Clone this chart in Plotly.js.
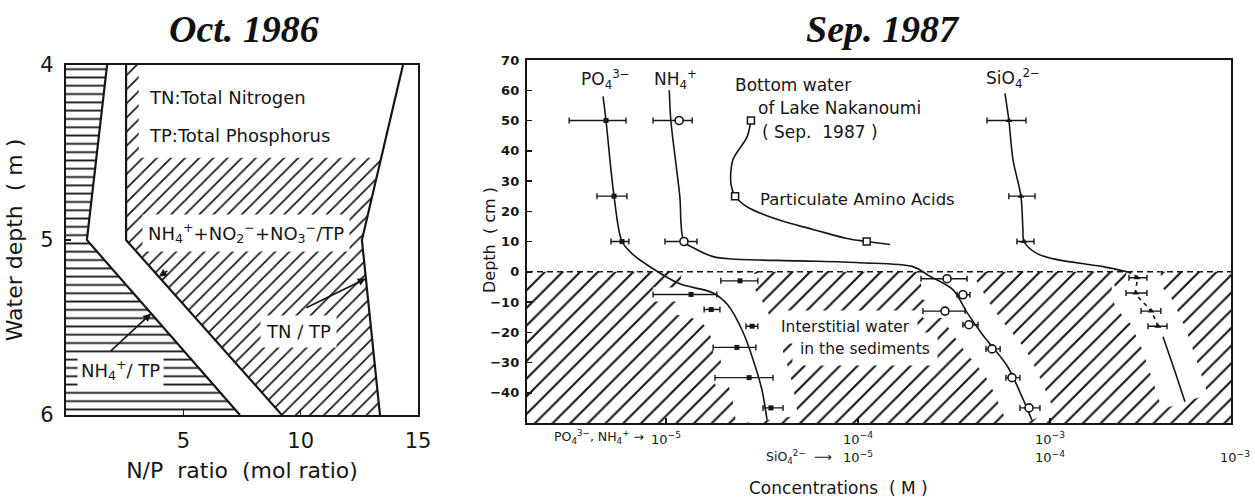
<!DOCTYPE html>
<html><head><meta charset="utf-8">
<script src="https://cdn.plot.ly/plotly-3.0.1.min.js"></script>
<style>html,body{margin:0;padding:0;background:#fff}#chart{width:1255px;height:497px}</style>
</head><body><div id="chart"></div>
<script>
// ===== Left panel: Oct. 1986 – N/P ratio vs water depth =====
const waterDepth = [4, 5, 6];                 // m
const nh4TP      = [1.75, 0.89, 7.41];        // NH4+ / TP
const dinTP      = [2.56, 2.56, 9.2];         // (NH4+ + NO2- + NO3-) / TP
const tnTP       = [14.36, 12.61, 13.38];     // TN / TP
const npTicks    = [5, 10, 15];
const depthTicksM = [4, 5, 6];

// ===== Right panel: Sep. 1987 – concentrations (M) vs depth (cm) =====
const po4Depth = [50, 25, 10, -3, -7.5, -12.5, -18, -25, -35, -45];
const po4Conc  = [4.87e-6, 5.36e-6, 5.90e-6, 2.43e-5, 1.35e-5, 1.72e-5, 2.81e-5, 2.34e-5, 2.71e-5, 3.52e-5];
const po4Low   = [3.13e-6, 4.37e-6, 5.17e-6, 1.93e-5, 8.56e-6, 1.58e-5, 2.61e-5, 1.76e-5, 1.80e-5, 3.20e-5];
const po4High  = [6.19e-6, 6.26e-6, 6.41e-6, 3.01e-5, 1.84e-5, 1.91e-5, 3.01e-5, 2.94e-5, 3.61e-5, 4.07e-5];
const po4CurveDepth = [58, 50, 25, 10, 6, 1, -4, -7, -11, -20, -29, -39, -49];
const po4CurveConc  = [4.70e-6, 4.87e-6, 5.36e-6, 5.90e-6, 6.65e-6, 8.56e-6, 1.18e-5, 1.76e-5, 2.10e-5, 2.52e-5, 2.84e-5, 3.16e-5, 3.36e-5];

const nh4Depth = [50, 10, -2.3, -7.6, -13, -17.5, -25.5, -35, -45];
const nh4Conc  = [1.17e-5, 1.24e-5, 2.91e-4, 3.52e-4, 2.84e-4, 3.78e-4, 4.99e-4, 6.34e-4, 7.78e-4];
const nh4Low   = [8.56e-6, 9.88e-6, 2.13e-4, 3.28e-4, 2.18e-4, 3.52e-4, 4.64e-4, 5.90e-4, 6.98e-4];
const nh4High  = [1.37e-5, 1.45e-5, 3.70e-4, 3.83e-4, 3.61e-4, 4.22e-4, 5.50e-4, 6.98e-4, 8.87e-4];
const nh4CurveDepth = [60, 50, 35, 25, 10, 8, 5, 4.2, 3.6, 3, 1.7, -1.5, -6, -13.5, -21, -31, -42, -49];
const nh4CurveConc  = [1.04e-5, 1.06e-5, 1.13e-5, 1.18e-5, 1.24e-5, 1.38e-5, 1.76e-5, 2.23e-5, 4.99e-5, 1.02e-4, 1.93e-4, 2.37e-4, 3.13e-4, 3.70e-4, 4.48e-4, 5.97e-4, 7.23e-4, 8.05e-4];

const aaDepth = [50, 25, 10];                 // particulate amino acids
const aaConc  = [2.77e-5, 2.29e-5, 1.11e-4];
const aaCurveDepth = [50, 44.5, 37, 29, 25, 21.5, 17, 14, 11, 10, 9];
const aaCurveConc  = [2.77e-5, 2.64e-5, 2.23e-5, 2.18e-5, 2.29e-5, 2.64e-5, 3.92e-5, 5.83e-5, 8.77e-5, 1.11e-4, 1.47e-4];

const siDepth = [50, 25, 10, -2, -7, -13, -18];
const siConc  = [6.11e-5, 7.06e-5, 7.32e-5, 2.84e-4, 2.80e-4, 3.36e-4, 3.65e-4];
const siLow   = [4.70e-5, 6.11e-5, 6.73e-5, 2.58e-4, 2.49e-4, 2.98e-4, 3.24e-4];
const siHigh  = [7.50e-5, 8.36e-5, 8.26e-5, 3.20e-4, 3.20e-4, 3.78e-4, 4.07e-4];
const siCurveDepth = [59, 50, 37, 25, 14, 10, 6, 4, 1.7, 0];
const siCurveConc  = [5.83e-5, 6.11e-5, 6.42e-5, 7.06e-5, 7.23e-5, 7.32e-5, 8.56e-5, 1.09e-4, 1.89e-4, 2.52e-4];
const siDashDepth  = [0, -2, -7, -13, -18];
const siDashConc   = [2.52e-4, 2.84e-4, 2.80e-4, 3.36e-4, 3.65e-4];
const siLowerDepth = [-21.5, -33, -43];
const siLowerConc  = [3.88e-4, 4.48e-4, 5.05e-4];

const depthTicksCm  = [70, 60, 50, 40, 30, 20, 10, 0, -10, -20, -30, -40];
const concTickVals  = [1e-5, 1e-4, 1e-3];
const concTickText  = ['10<sup>−5</sup>', '10<sup>−4</sup>', '10<sup>−3</sup>'];
const siTickText    = ['10<sup>−5</sup>', '10<sup>−4</sup>', '10<sup>−3</sup>'];

// ===== layout constants =====
const W = 1255, H = 497;
const px = v => v / W, py = v => 1 - v / H;
const concRangeLog = [-5.724, -2.057];
const siRangeLog = [concRangeLog[0] - 1, concRangeLog[1] - 1];
const depthRangeCm = [-50, 70];
const sedimentTop = 0;
const labelBoxLeft = 3.1, labelBoxBottom = 4.53;
const siTickPx = [858, 1050, 1252];
const siTickAnchor = ['center', 'center', 'right'];

const INK = '#161616';
const SANS = 'DejaVu Sans, Liberation Sans, sans-serif';

function interp(d, ds, xs) {
  for (let i = 0; i < ds.length - 1; i++) {
    if (d >= ds[i] && d <= ds[i + 1]) {
      const t = (d - ds[i]) / (ds[i + 1] - ds[i]);
      return xs[i] + t * (xs[i + 1] - xs[i]);
    }
  }
  return xs[xs.length - 1];
}
const rev = a => a.slice().reverse();
const sedPart = (ds, xs) => {
  const o = {x: [], y: []};
  ds.forEach((d, i) => { if (d <= sedimentTop + 0.5) { o.x.push(xs[i]); o.y.push(d); } });
  return o;
};

const traces = [];
// --- left panel fills ---
traces.push({x: [...dinTP, ...rev(tnTP)], y: [...waterDepth, ...rev(waterDepth)],
  mode: 'lines', fill: 'toself', line: {width: 0}, fillcolor: '#ffffff',
  fillpattern: {shape: '/', size: 10, solidity: 0.17, fgcolor: INK, bgcolor: '#ffffff'},
  xaxis: 'x', yaxis: 'y', hoverinfo: 'skip', showlegend: false});
traces.push({x: [0, ...nh4TP, 0], y: [waterDepth[0], ...waterDepth, waterDepth[waterDepth.length - 1]],
  mode: 'lines', fill: 'toself', line: {width: 0}, fillcolor: '#ffffff',
  fillpattern: {shape: '-', size: 8.3, solidity: 0.22, fgcolor: INK, bgcolor: '#ffffff'},
  xaxis: 'x', yaxis: 'y', hoverinfo: 'skip', showlegend: false});
// white label area at the top
traces.push({x: [labelBoxLeft, tnTP[0], interp(labelBoxBottom, waterDepth, tnTP), labelBoxLeft],
  y: [waterDepth[0], waterDepth[0], labelBoxBottom, labelBoxBottom],
  mode: 'lines', fill: 'toself', line: {width: 0}, fillcolor: '#ffffff',
  xaxis: 'x', yaxis: 'y', hoverinfo: 'skip', showlegend: false});
[nh4TP, dinTP, tnTP].forEach(arr => traces.push({x: arr, y: waterDepth, mode: 'lines',
  line: {color: INK, width: 2.2}, xaxis: 'x', yaxis: 'y', hoverinfo: 'skip', showlegend: false}));

// --- right panel: sediment hatch ---
const xLo = Math.pow(10, concRangeLog[0]), xHi = Math.pow(10, concRangeLog[1]);
traces.push({x: [xLo, xHi, xHi, xLo], y: [sedimentTop, sedimentTop, depthRangeCm[0], depthRangeCm[0]],
  mode: 'lines', fill: 'toself', line: {width: 0}, fillcolor: '#ffffff',
  fillpattern: {shape: '/', size: 12.5, solidity: 0.17, fgcolor: INK, bgcolor: '#ffffff'},
  xaxis: 'x2', yaxis: 'y2', hoverinfo: 'skip', showlegend: false});
// white clearings along the sediment profiles
const po4Band = sedPart(po4CurveDepth, po4CurveConc);
const nh4Band = sedPart(nh4CurveDepth, nh4CurveConc);
traces.push({x: po4Band.x, y: po4Band.y, mode: 'lines', line: {color: '#ffffff', width: 62, shape: 'spline'},
  xaxis: 'x2', yaxis: 'y2', hoverinfo: 'skip', showlegend: false});
traces.push({x: nh4Band.x, y: nh4Band.y, mode: 'lines', line: {color: '#ffffff', width: 48, shape: 'spline'},
  xaxis: 'x2', yaxis: 'y2', hoverinfo: 'skip', showlegend: false});
traces.push({x: [...siDashConc, ...siLowerConc], y: [...siDashDepth, ...siLowerDepth], mode: 'lines',
  line: {color: '#ffffff', width: 48, shape: 'spline'},
  xaxis: 'x3', yaxis: 'y2', hoverinfo: 'skip', showlegend: false});
// white halo around each sediment error bar
const errX = (c, lo, hi, col, th, w) => ({type: 'data', symmetric: false,
  array: hi.map((h, i) => h - c[i]), arrayminus: lo.map((l, i) => c[i] - l),
  color: col, thickness: th, width: w});
const halo = (c, d, lo, hi, xa) => ({x: c, y: d, mode: 'markers', marker: {size: 14, color: '#ffffff'},
  error_x: errX(c, lo, hi, '#ffffff', 14, 0), xaxis: xa, yaxis: 'y2', hoverinfo: 'skip', showlegend: false});
traces.push(halo(po4Conc, po4Depth, po4Low, po4High, 'x2'));
traces.push(halo(nh4Conc, nh4Depth, nh4Low, nh4High, 'x2'));
traces.push(halo(siConc, siDepth, siLow, siHigh, 'x3'));

// --- right panel curves ---
const curve = (x, y, xa, dash) => ({x, y, mode: 'lines', line: {color: INK, width: 1.6, shape: 'spline', smoothing: 0.9, dash: dash || 'solid'},
  xaxis: xa, yaxis: 'y2', hoverinfo: 'skip', showlegend: false});
traces.push(curve(po4CurveConc, po4CurveDepth, 'x2'));
traces.push(curve(nh4CurveConc, nh4CurveDepth, 'x2'));
traces.push(curve(aaCurveConc, aaCurveDepth, 'x2'));
traces.push(curve(siCurveConc, siCurveDepth, 'x3'));
traces.push(curve(siDashConc, siDashDepth, 'x3', '4px,4px'));
traces.push(curve(siLowerConc, siLowerDepth, 'x3'));

// --- right panel points with error bars ---
traces.push({name: 'PO4', x: po4Conc, y: po4Depth, mode: 'markers', error_x: errX(po4Conc, po4Low, po4High, INK, 1.4, 3),
  marker: {symbol: 'square', size: 5, color: INK}, xaxis: 'x2', yaxis: 'y2', showlegend: false});
traces.push({name: 'NH4', x: nh4Conc, y: nh4Depth, mode: 'markers', error_x: errX(nh4Conc, nh4Low, nh4High, INK, 1.4, 3),
  marker: {symbol: 'circle', size: 8, color: '#ffffff', line: {color: INK, width: 1.6}}, xaxis: 'x2', yaxis: 'y2', showlegend: false});
traces.push({name: 'Particulate amino acids', x: aaConc, y: aaDepth, mode: 'markers',
  marker: {symbol: 'square', size: 7, color: '#ffffff', line: {color: INK, width: 1.5}}, xaxis: 'x2', yaxis: 'y2', showlegend: false});
traces.push({name: 'SiO4', x: siConc, y: siDepth, mode: 'markers', error_x: errX(siConc, siLow, siHigh, INK, 1.4, 3),
  marker: {symbol: 'triangle-up', size: 6, color: INK}, xaxis: 'x3', yaxis: 'y2', showlegend: false});

// ===== annotations =====
const txt = (text, x, y, size, opts) => Object.assign({text, x: px(x), y: py(y), xref: 'paper', yref: 'paper',
  showarrow: false, xanchor: 'center', yanchor: 'middle', font: {family: SANS, size: size, color: INK}}, opts || {});
const titleFont = {family: 'Liberation Serif, Times New Roman, serif', size: 38, weight: 'bold', style: 'italic', color: '#111'};
const arrow = (x, y, ax, ay) => ({x, y, xref: 'x', yref: 'y', text: '', showarrow: true, ax, ay,
  arrowhead: 2, arrowsize: 1, arrowwidth: 1.6, arrowcolor: INK});

const annotations = [
  txt('Oct. 1986', 244, 29, 38, {font: titleFont}),
  txt('Sep. 1987', 883, 29, 38, {font: titleFont}),
  // left panel
  txt('TN:Total Nitrogen', 147, 98, 18, {xanchor: 'left'}),
  txt('TP:Total Phosphorus', 147, 135, 18, {xanchor: 'left'}),
  txt('NH<sub>4</sub><sup>+</sup>+NO<sub>2</sub><sup>−</sup>+NO<sub>3</sub><sup>−</sup>/TP', 246, 233, 18, {bgcolor: '#ffffff', borderpad: 5}),
  txt('TN / TP', 298, 331, 18, {bgcolor: '#ffffff', borderpad: 5}),
  txt('NH<sub>4</sub><sup>+</sup>/ TP', 120, 370, 18, {bgcolor: '#ffffff', borderpad: 3}),
  arrow(interp(5.21, waterDepth, dinTP), 5.21, 10, -7),
  arrow(interp(5.22, waterDepth, tnTP), 5.22, -61, 30),
  arrow(interp(5.42, waterDepth, nh4TP), 5.42, -42, 39),
  // right panel labels
  txt('PO<sub>4</sub><sup>3−</sup>', 605, 80, 17),
  txt('NH<sub>4</sub><sup>+</sup>', 675, 80, 17),
  txt('SiO<sub>4</sub><sup>2−</sup>', 1013, 78, 17),
  txt('Bottom water', 733, 85, 17, {xanchor: 'left'}),
  txt('of Lake Nakanoumi', 756, 108, 17, {xanchor: 'left'}),
  txt('( Sep.  1987 )', 760, 132, 17, {xanchor: 'left'}),
  txt('Particulate Amino Acids', 758, 199, 16.5, {xanchor: 'left'}),
  txt('Interstitial water', 773, 327, 15.5, {xanchor: 'left', bgcolor: '#ffffff', borderpad: 7}),
  txt('in the sediments', 792, 349, 15.5, {xanchor: 'left', bgcolor: '#ffffff', borderpad: 7}),
  // x-axis scale legends
  txt('PO<sub>4</sub><sup>3−</sup>, NH<sub>4</sub><sup>+</sup> →', 646, 437, 12.5, {xanchor: 'right'}),
  txt('SiO<sub>4</sub><sup>2−</sup>  ⟶', 834, 457, 12.5, {xanchor: 'right'}),
  ...siTickText.map((t, i) => txt(t, siTickPx[i], 457, 13, {xanchor: siTickAnchor[i]})),
  txt('Concentrations  ( M )', 838, 488, 17),
  txt('Depth  ( cm )', 489, 240, 16, {textangle: -90})
];

const axCommon = {showline: true, mirror: true, linewidth: 2.2, linecolor: INK, showgrid: false, zeroline: false,
  ticks: 'inside', ticklen: 5, tickwidth: 1.5, tickcolor: INK, fixedrange: true};

const layout = {
  width: W, height: H, margin: {l: 0, r: 0, t: 0, b: 0}, paper_bgcolor: '#ffffff', plot_bgcolor: '#ffffff',
  showlegend: false,
  xaxis: Object.assign({}, axCommon, {domain: [px(66), px(418)], range: [0, 15], tickvals: npTicks, anchor: 'y',
    tickfont: {family: SANS, size: 21, color: INK}, ticklabelstandoff: 6,
    title: {text: 'N/P  ratio  (mol ratio)', font: {family: SANS, size: 22, color: INK}, standoff: 10}}),
  yaxis: Object.assign({}, axCommon, {domain: [py(415), py(65)], range: [6, 4], tickvals: depthTicksM, anchor: 'x',
    tickfont: {family: SANS, size: 21, color: INK}, ticklabelstandoff: 6,
    title: {text: 'Water depth  ( m )', font: {family: SANS, size: 22, color: INK}, standoff: 12}}),
  xaxis2: Object.assign({}, axCommon, {domain: [px(527), px(1231)], type: 'log', range: concRangeLog, anchor: 'y2',
    tickvals: concTickVals, ticktext: concTickText, tickfont: {family: SANS, size: 13, color: INK}, ticklabelstandoff: 3}),
  xaxis3: {overlaying: 'x2', type: 'log', range: siRangeLog, visible: false, anchor: 'y2', fixedrange: true},
  yaxis2: Object.assign({}, axCommon, {domain: [py(423), py(60)], range: depthRangeCm, anchor: 'x2',
    tickvals: depthTicksCm, tickfont: {family: SANS, size: 13, color: INK, weight: 700}, ticklabelstandoff: 3}),
  shapes: [{type: 'line', xref: 'x2 domain', x0: 0, x1: 1, yref: 'y2', y0: sedimentTop, y1: sedimentTop,
    line: {color: INK, width: 1.6, dash: '6px,4px'}, layer: 'above'}],
  annotations
};

Plotly.newPlot('chart', traces, layout, {displayModeBar: false, staticPlot: true});
</script></body></html>
